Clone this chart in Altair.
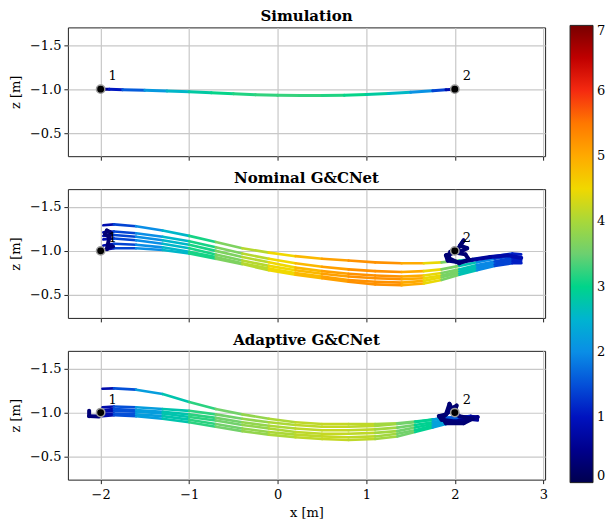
import altair as alt
import pandas as pd

# ---------------- data ----------------
PANEL_TITLES = ["Simulation", "Nominal G&CNet", "Adaptive G&CNet"]
X_TICKS = [-2, -1, 0, 1, 2, 3]
Z_TICKS = [-1.5, -1.0, -0.5]
CB_TICKS = [0, 1, 2, 3, 4, 5, 6, 7]

# colour map (speed) stops
CB_STOPS = [0, 0.5, 1, 1.5, 2, 2.5, 3, 3.5, 4, 4.5, 5, 5.5, 6, 6.25, 6.5, 7]
CB_COLORS = ["#00004f", "#00008c", "#0012bf", "#0450d8", "#0a8ee6", "#00b4d0",
             "#00d48a", "#6cd070", "#a8d83a", "#f0d800", "#ffaa00", "#ff7800",
             "#f52a10", "#e80000", "#c00000", "#780000"]

WAYPOINT_X = [-2.0, 2.0]
WAYPOINT_Z = [-1.0, -1.0]
WAYPOINT_LABELS = ["1", "2"]

# Simulation
SIM_X = [-2.0, -1.9, -1.75, -1.5, -1.25, -1.0, -0.75, -0.5, -0.25, 0.0, 0.25, 0.5, 0.75, 1.0, 1.25, 1.5, 1.75, 1.9, 2.0]
SIM_Z = [-1.0, -0.998, -0.994, -0.988, -0.980, -0.970, -0.958, -0.947, -0.937, -0.930, -0.927, -0.927, -0.931, -0.939, -0.950, -0.965, -0.982, -0.993, -1.0]
SIM_V = [0.3, 0.8, 1.3, 1.9, 2.4, 2.7, 2.95, 3.1, 3.2, 3.25, 3.25, 3.2, 3.1, 2.95, 2.75, 2.4, 1.7, 1.1, 0.5]

# Nominal G&CNet
NOM_X = [-1.97, -1.85, -1.6, -1.3, -1.0, -0.7, -0.4, -0.1, 0.2, 0.5, 0.8, 1.1, 1.4, 1.65, 1.85, 2.05, 2.25, 2.45, 2.65, 2.75]
NOM_V = [0.6, 1.1, 1.7, 2.3, 2.8, 3.4, 3.9, 4.3, 4.7, 5.0, 5.2, 5.3, 5.2, 4.8, 4.1, 3.1, 2.3, 1.6, 1.2, 1.0]
NOM_Z1 = [-1.29, -1.30, -1.28, -1.23, -1.17, -1.10, -1.03, -0.98, -0.94, -0.91, -0.89, -0.87, -0.86, -0.86, -0.87, -0.89, -0.91, -0.94, -0.97, -0.96]
NOM_Z2 = [-1.21, -1.22, -1.20, -1.16, -1.11, -1.04, -0.97, -0.91, -0.86, -0.82, -0.79, -0.77, -0.76, -0.77, -0.79, -0.83, -0.87, -0.91, -0.94, -0.93]
NOM_Z3 = [-1.17, -1.18, -1.16, -1.12, -1.07, -1.00, -0.93, -0.87, -0.81, -0.77, -0.74, -0.72, -0.71, -0.72, -0.75, -0.79, -0.84, -0.88, -0.92, -0.91]
NOM_Z4 = [-1.13, -1.14, -1.12, -1.08, -1.03, -0.96, -0.89, -0.83, -0.78, -0.74, -0.71, -0.69, -0.68, -0.69, -0.72, -0.77, -0.82, -0.87, -0.90, -0.89]
NOM_Z5 = [-1.06, -1.08, -1.07, -1.04, -0.99, -0.93, -0.86, -0.80, -0.75, -0.71, -0.67, -0.65, -0.64, -0.66, -0.70, -0.75, -0.80, -0.85, -0.88, -0.87]
NOM_Z6 = [-1.01, -1.03, -1.03, -1.01, -0.97, -0.91, -0.85, -0.78, -0.73, -0.69, -0.65, -0.62, -0.61, -0.63, -0.67, -0.73, -0.78, -0.83, -0.86, -0.86]
NOM_HOVER_X = [2.75, 2.6, 2.4, 2.2, 2.05, 1.92, 1.90, 2.0, 2.12, 2.16, 2.05, 1.93, 1.95, 2.08, 2.14, 2.06, 2.1, 2.02]
NOM_HOVER_Z = [-0.92, -0.95, -0.93, -0.90, -0.87, -0.89, -0.95, -0.98, -0.96, -0.90, -0.86, -0.92, -0.99, -1.0, -1.03, -1.06, -1.12, -1.0]
NOM_HOVER_V = [0.9, 0.8, 0.7, 0.6, 0.5, 0.4, 0.3, 0.3, 0.3, 0.3, 0.3, 0.3, 0.3, 0.3, 0.3, 0.3, 0.3, 0.2]
NOM_HOOK_X = [-1.91, -1.95, -1.93, -1.89, -1.93, -1.90, -1.86]
NOM_HOOK_Z = [-1.16, -1.19, -1.23, -1.21, -1.02, -1.05, -1.05]
NOM_HOOK_V = [0.3, 0.3, 0.3, 0.3, 0.3, 0.3, 0.4]

# Adaptive G&CNet
AD_X = [-1.98, -1.85, -1.6, -1.3, -1.0, -0.7, -0.4, -0.1, 0.2, 0.5, 0.8, 1.1, 1.35, 1.55, 1.75, 1.9, 2.05, 2.18, 2.26]
AD_V = [0.5, 1.1, 1.9, 2.5, 3.0, 3.4, 3.7, 3.95, 4.1, 4.2, 4.2, 4.1, 3.8, 3.3, 2.6, 1.9, 1.3, 0.8, 0.5]
AD_Z1 = [-1.27, -1.275, -1.26, -1.21, -1.12, -1.04, -0.98, -0.93, -0.89, -0.87, -0.87, -0.87, -0.88, -0.90, -0.92, -0.94, -0.95, -0.96, -0.95]
AD_Z2 = [-1.06, -1.07, -1.06, -1.04, -1.02, -0.98, -0.93, -0.89, -0.86, -0.84, -0.84, -0.85, -0.87, -0.89, -0.92, -0.94, -0.95, -0.96, -0.95]
AD_Z3 = [-1.03, -1.04, -1.03, -1.01, -0.98, -0.94, -0.89, -0.85, -0.82, -0.80, -0.80, -0.81, -0.83, -0.86, -0.89, -0.92, -0.94, -0.95, -0.94]
AD_Z4 = [-1.01, -1.02, -1.01, -0.99, -0.95, -0.91, -0.86, -0.82, -0.78, -0.76, -0.76, -0.77, -0.79, -0.83, -0.87, -0.90, -0.93, -0.94, -0.93]
AD_Z5 = [-0.98, -0.99, -0.98, -0.96, -0.92, -0.87, -0.82, -0.78, -0.75, -0.73, -0.72, -0.73, -0.76, -0.80, -0.85, -0.89, -0.92, -0.93, -0.92]
AD_Z6 = [-0.96, -0.97, -0.96, -0.93, -0.89, -0.84, -0.79, -0.75, -0.72, -0.70, -0.69, -0.70, -0.73, -0.78, -0.83, -0.87, -0.91, -0.92, -0.91]
AD_HOVER_X = [2.26, 2.15, 2.0, 1.85, 1.82, 1.90, 1.94, 1.98, 2.05, 2.2, 2.1, 1.9, 1.86, 1.99, 2.02, 2.0]
AD_HOVER_Z = [-0.95, -0.92, -0.90, -0.92, -0.96, -0.98, -1.10, -1.02, -0.96, -0.93, -0.88, -0.88, -0.94, -1.06, -1.08, -1.0]
AD_HOVER_V = [0.5, 0.4, 0.4, 0.3, 0.3, 0.3, 0.3, 0.3, 0.3, 0.3, 0.3, 0.3, 0.3, 0.3, 0.3, 0.2]
AD_HOOK_X = [-2.13, -2.13, -2.02]
AD_HOOK_Z = [-1.02, -0.96, -0.955]
AD_HOOK_V = [0.3, 0.3, 0.4]

# ---------------- helpers ----------------
FONT = "DejaVu Serif"
X_DOMAIN = [-2.37, 3.02]
Z_DOMAIN = [-1.70, -0.24]
W, H = 478, 129


def segs(xs, zs, vs):
    return [{"x": xs[i], "z": zs[i], "x2": xs[i + 1], "z2": zs[i + 1],
             "v": (vs[i] + vs[i + 1]) / 2.0} for i in range(len(xs) - 1)]


color_enc = alt.Color(
    "v:Q",
    scale=alt.Scale(domain=CB_STOPS, range=CB_COLORS, interpolate="rgb"),
    legend=alt.Legend(orient="none", legendX=503, legendY=-2, direction="vertical",
                      gradientLength=458, gradientThickness=23, title=None,
                      values=CB_TICKS, format="d", labelFont=FONT, labelFontSize=13,
                      labelColor="black", labelOffset=4, labelBaseline="middle",
                      gradientStrokeColor="#222", gradientStrokeWidth=1),
)


def axes(bottom):
    if bottom:
        xa = alt.Axis(values=X_TICKS, format="d", title="x [m]", grid=True,
                      labelPadding=5, titlePadding=5)
    else:
        xa = alt.Axis(values=X_TICKS, labels=False, title=None, grid=True)
    ya = alt.Axis(values=Z_TICKS, format=".1f", title="z [m]", grid=True)
    return xa, ya


def panel(title, lines, line_width, scribbles, bottom):
    xa, ya = axes(bottom)
    xs = alt.Scale(domain=X_DOMAIN, nice=False, zero=False)
    zs = alt.Scale(domain=Z_DOMAIN, reverse=True, nice=False, zero=False)
    rows = []
    for l in lines:
        rows += segs(*l)
    layers = [
        alt.Chart(pd.DataFrame(rows)).mark_rule(strokeWidth=line_width, strokeCap="round").encode(
            x=alt.X("x:Q", scale=xs, axis=xa), y=alt.Y("z:Q", scale=zs, axis=ya),
            x2="x2:Q", y2="z2:Q", color=color_enc)
    ]
    if scribbles:
        srows = []
        for s in scribbles:
            srows += segs(*s)
        layers.append(
            alt.Chart(pd.DataFrame(srows)).mark_rule(strokeWidth=4, strokeCap="round").encode(
                x=alt.X("x:Q", scale=xs, axis=xa), y=alt.Y("z:Q", scale=zs, axis=ya),
                x2="x2:Q", y2="z2:Q", color=color_enc)
        )
    wp = pd.DataFrame({"x": WAYPOINT_X, "z": WAYPOINT_Z, "label": WAYPOINT_LABELS})
    layers.append(alt.Chart(wp).mark_circle(size=70, color="black", opacity=1,
                                            stroke="#9a9a9a", strokeWidth=1.5).encode(
        x=alt.X("x:Q", scale=xs, axis=xa), y=alt.Y("z:Q", scale=zs, axis=ya)))
    layers.append(alt.Chart(wp).mark_text(dx=12, dy=-13, font=FONT, fontSize=13, color="black").encode(
        x=alt.X("x:Q", scale=xs, axis=xa), y=alt.Y("z:Q", scale=zs, axis=ya), text="label:N"))
    return alt.layer(*layers).properties(
        width=W, height=H,
        title=alt.TitleParams(title, font=FONT, fontSize=15, fontWeight="bold", color="black", offset=3))


p1 = panel(PANEL_TITLES[0], [(SIM_X, SIM_Z, SIM_V)], 3, None, False)
p2 = panel(PANEL_TITLES[1],
           [(NOM_X, z, NOM_V) for z in [NOM_Z6, NOM_Z5, NOM_Z4, NOM_Z3, NOM_Z2, NOM_Z1]], 2.6,
           [(NOM_HOVER_X, NOM_HOVER_Z, NOM_HOVER_V), (NOM_HOOK_X, NOM_HOOK_Z, NOM_HOOK_V)], False)
p3 = panel(PANEL_TITLES[2],
           [(AD_X, z, AD_V) for z in [AD_Z6, AD_Z5, AD_Z4, AD_Z3, AD_Z2, AD_Z1]], 2.6,
           [(AD_HOVER_X, AD_HOVER_Z, AD_HOVER_V), (AD_HOOK_X, AD_HOOK_Z, AD_HOOK_V)], True)

chart = alt.vconcat(p1, p2, p3, spacing=9).properties(
    padding={"left": 0, "top": 0, "right": 0, "bottom": 0}
).configure_view(
    stroke="#222", strokeWidth=1
).configure_axis(
    labelFont=FONT, labelFontSize=13, labelColor="black", titleFont=FONT, titleFontSize=13,
    titleColor="black", titleFontWeight="normal", gridColor="#c8c8c8", gridWidth=1.2,
    domain=False, tickColor="#222", tickSize=4, labelPadding=3
).configure_axisY(
    titlePadding=7
).configure_axisX(
    titlePadding=3
)

chart.save("out.html", embed_options={"renderer": "svg", "actions": False})
